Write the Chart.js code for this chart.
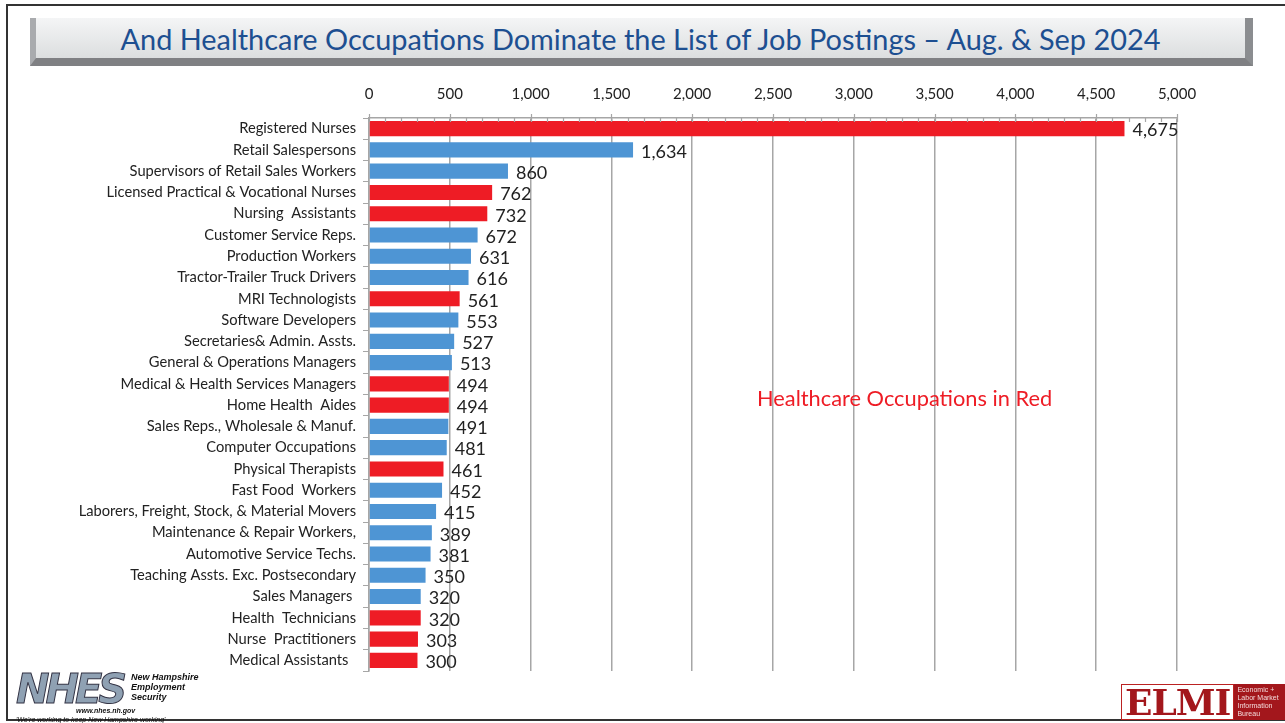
<!DOCTYPE html>
<html>
<head>
<meta charset="utf-8">
<script src="https://cdn.jsdelivr.net/npm/chart.js@4.4.1/dist/chart.umd.min.js"></script>
<style>
    body { margin: 0; background: #fff; font-family: Lato, "Open Sans", sans-serif; }
    #page { position: relative; width: 1285px; height: 723px; overflow: hidden; }
    #frame { position: absolute; left: 6px; top: 4px; width: 1290px; height: 713px;
        border-top: 2px solid #333; border-left: 2px solid #333; border-bottom: 2px solid #333; }
    #title { position: absolute; left: 30px; top: 18px; width: 1223px; height: 48px;
        background: linear-gradient(#f4f5f6, #dcdedf);
        border-left: 6px solid #a9abae; border-right: 8px solid #8b8d90; border-bottom: 8px solid #7f8083;
        box-sizing: border-box; text-align: center; color: #1d4f91; font-size: 28.9px; line-height: 42px; }
    #note { position: absolute; left: 757px; top: 384px; color: #ee1c25; font-size: 21.8px; }
    #chart { position: absolute; left: 0; top: 0; }
    #nhes { position: absolute; left: 14px; top: 660px; width: 190px; height: 62px; }
    #nhes .big { position: absolute; left: 2px; top: 6px; font: italic 900 40px "DejaVu Sans", sans-serif;
        color: #8fa1b3; letter-spacing: -4px; -webkit-text-stroke: 1px #334; }
    #nhes .nm { position: absolute; left: 117px; top: 12px; font: italic bold 9px "Liberation Sans", sans-serif;
        color: #111; line-height: 10px; }
    #nhes .url { position: absolute; left: 62px; top: 47px; font: italic bold 7px "Liberation Sans", sans-serif; color: #111; }
    #nhes .tag { position: absolute; left: 2px; top: 56px; font: italic 7px "Liberation Sans", sans-serif; color: #111; }
    #elmi { position: absolute; left: 1121px; top: 684px; height: 36px; display: flex; }
    #elmi .w { background: #fff; border: 1px solid #b22; font: bold 36px "DejaVu Serif", serif; color: #a3171c;
        line-height: 34px; padding: 0 3px; letter-spacing: -1px; }
    #elmi .r { background: #a3171c; color: #f3dada; font: 7px "Liberation Sans", sans-serif; line-height: 8px;
        padding: 2px 3px; width: 60px; }
</style>
</head>
<body>
<div id="page">
    <canvas id="chart" width="1285" height="723"></canvas>
    <div id="frame"></div>
    <div id="title">And Healthcare Occupations Dominate the List of Job Postings – Aug. &amp; Sep 2024</div>
    <div id="note">Healthcare Occupations in Red</div>
    <div id="nhes">
        <div class="big">NHES</div>
        <div class="nm">New Hampshire<br>Employment<br>Security</div>
        <div class="url">www.nhes.nh.gov</div>
        <div class="tag">'We're working to keep New Hampshire working'</div>
    </div>
    <div id="elmi">
        <div class="w">ELMI</div>
        <div class="r">Economic +<br>Labor Market<br>Information<br>Bureau</div>
    </div>
</div>
<script>
// occupations, job postings and whether healthcare (red)
var occupations = [
    "Registered Nurses",
    "Retail Salespersons",
    "Supervisors of Retail Sales Workers",
    "Licensed Practical & Vocational Nurses",
    "Nursing  Assistants",
    "Customer Service Reps.",
    "Production Workers",
    "Tractor-Trailer Truck Drivers",
    "MRI Technologists",
    "Software Developers",
    "Secretaries& Admin. Assts.",
    "General & Operations Managers",
    "Medical & Health Services Managers",
    "Home Health  Aides",
    "Sales Reps., Wholesale & Manuf.",
    "Computer Occupations",
    "Physical Therapists",
    "Fast Food  Workers",
    "Laborers, Freight, Stock, & Material Movers",
    "Maintenance & Repair Workers,",
    "Automotive Service Techs.",
    "Teaching Assts. Exc. Postsecondary",
    "Sales Managers ",
    "Health  Technicians",
    "Nurse  Practitioners",
    "Medical Assistants  "
];
var postings = [4675, 1634, 860, 762, 732, 672, 631, 616, 561, 553, 527, 513, 494, 494, 491, 481, 461, 452, 415, 389, 381, 350, 320, 320, 303, 300];
var healthcare = [1, 0, 0, 1, 1, 0, 0, 0, 1, 0, 0, 0, 1, 1, 0, 0, 1, 0, 0, 0, 0, 0, 0, 1, 1, 1];
var axisTicks = [0, 500, 1000, 1500, 2000, 2500, 3000, 3500, 4000, 4500, 5000];

var RED = "#ee1c25";
var BLUE = "#4e95d4";
var GRID = "#a6a6a6";

var barColors = [];
for (var i in healthcare) {
    barColors.push(healthcare[i] ? RED : BLUE);
}

// value labels at the end of each bar + inside minor ticks on the top axis
var extras = {
    id: "extras",
    afterDatasetsDraw: function (chart) {
        var ctx = chart.ctx;
        var meta = chart.getDatasetMeta(0);
        var xs = chart.scales.x;
        var top = chart.chartArea.top;
        ctx.save();
        ctx.strokeStyle = GRID;
        ctx.lineWidth = 1.2;
        for (var v = 0; v <= 5000; v += 100) {
            var px = Math.round(xs.getPixelForValue(v)) + 0.5;
            ctx.beginPath();
            if (v % 500 === 0) {
                ctx.moveTo(px, top - 4);
            } else {
                ctx.moveTo(px, top);
            }
            ctx.lineTo(px, top + 4);
            ctx.stroke();
        }
        ctx.font = "18px Lato";
        ctx.fillStyle = "#222";
        ctx.textAlign = "left";
        ctx.textBaseline = "middle";
        meta.data.forEach(function (bar, idx) {
            ctx.fillText(postings[idx].toLocaleString("en-US"), bar.x + 8, bar.y + 2);
        });
        ctx.restore();
    }
};

var ctx = document.getElementById("chart").getContext("2d");
var chart = new Chart(ctx, {
    type: "bar",
    data: {
        labels: occupations,
        datasets: [
            {
                label: "Job postings",
                data: postings,
                backgroundColor: barColors,
                barPercentage: 0.71,
                categoryPercentage: 1.0,
            },
        ],
    },
    options: {
        indexAxis: "y",
        responsive: false,
        animation: false,
        layout: { padding: { left: 0, right: 108, top: 0, bottom: 52 } },
        plugins: { legend: { display: false }, tooltip: { enabled: false } },
        scales: {
            x: {
                position: "top",
                min: 0,
                max: 5000,
                afterFit: function (scale) { scale.height = 118; },
                afterBuildTicks: function (scale) {
                    scale.ticks = axisTicks.map(function (v) { return { value: v }; });
                },
                ticks: {
                    autoSkip: false,
                    maxRotation: 0,
                    padding: 15,
                    color: "#222",
                    font: { family: "Lato", size: 15 },
                    callback: function (v) { return v.toLocaleString("en-US"); },
                },
                grid: {
                    lineWidth: 1.5,
                    drawTicks: false,
                    color: GRID,
                },
                border: { color: GRID, width: 1.5 },
            },
            y: {
                afterFit: function (scale) { scale.width = 369; },
                ticks: {
                    color: "#222",
                    padding: 7,
                    font: { family: "Lato", size: 14.7 },
                },
                grid: { drawOnChartArea: false, tickLength: 6, color: GRID },
                border: { color: GRID, width: 1.5 },
            },
        },
    },
    plugins: [extras],
});
</script>
</body>
</html>
